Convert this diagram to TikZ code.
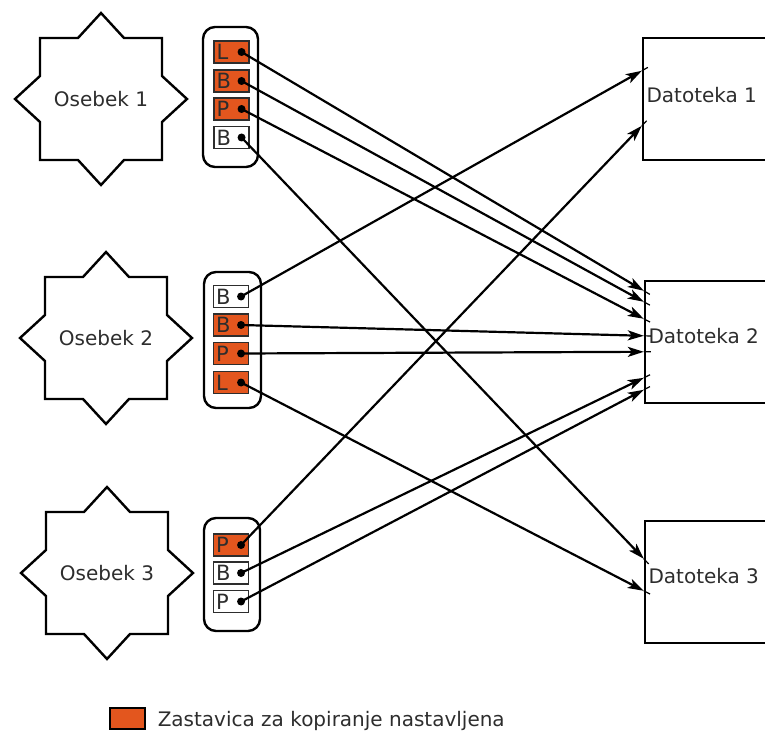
\documentclass[tikz,border=0pt]{standalone}
\usepackage{fontspec}
\setmainfont{DejaVu Sans}
\usetikzlibrary{arrows.meta,calc}
\definecolor{flagred}{RGB}{227,86,30}
\definecolor{ink}{RGB}{45,45,45}
\begin{document}
\begin{tikzpicture}[x=1pt,y=-1pt,
  font=\fontsize{20}{24}\selectfont,
  outline/.style={draw=black,line width=2.4pt,line join=miter},
  capsule/.style={draw=black,line width=2.4pt,rounded corners=12pt,fill=white,inner sep=0pt},
  flagbox/.style={draw=ink,line width=1.1pt,fill=flagred,minimum height=22pt,
    text width=30pt,inner xsep=2.5pt,inner ysep=0pt,align=left,text=ink,
    font=\fontsize{21}{24}\selectfont},
  clearflag/.style={flagbox,fill=white},
  pin/.style={circle,fill=black,inner sep=0pt,minimum size=8pt},
  link/.style={line width=2.2pt,-{Stealth[length=16pt,width=10pt,inset=4pt]}},
  stub/.style={line width=1.2pt},
  filebox/.style={draw=black,line width=2.4pt,minimum width=160pt,minimum height=122pt,inner sep=0pt},
  nametext/.style={text=ink,inner sep=0pt}]
\useasboundingbox (0,0) rectangle (765,738);
\clip (0,0) rectangle (765,738);

% persons: eight-pointed stars on a square
\foreach \cx/\cy/\n in {101/99/1,106/338/2,107/573/3}{
  \draw[outline,shift={(\cx,\cy)}]
    (0,-86) -- (23,-61) -- (61,-61) -- (61,-23) -- (86,0) -- (61,23) -- (61,61) -- (23,61)
    -- (0,86) -- (-23,61) -- (-61,61) -- (-61,23) -- (-86,0) -- (-61,-23) -- (-61,-61)
    -- (-23,-61) -- cycle;
  \node[nametext] (o\n) at (\cx,\cy) {Osebek \n};
}

% files
\node[filebox] (d1) at (723,99) {};
\node[filebox] (d2) at (725,342) {};
\node[filebox] (d3) at (725,582) {};
\node[nametext,anchor=base west] (d1t) at ([xshift=4.5pt,yshift=-4pt]d1.west) {Datoteka 1};
\node[nametext,anchor=base west] (d2t) at ([xshift=4.5pt,yshift=-1pt]d2.west) {Datoteka 2};
\node[nametext,anchor=base west] (d3t) at ([xshift=4.5pt,yshift=-1pt]d3.west) {Datoteka 3};

% flag holders
\node[capsule,minimum width=55pt,minimum height=140pt] (c1) at (230.5,97) {};
\node[flagbox]   (c1a) at (231.5,52)    {L};
\node[flagbox]   (c1b) at (231.5,81)    {B};
\node[flagbox]   (c1c) at (231.5,109)   {P};
\node[clearflag] (c1d) at (231.5,137.5) {B};

\node[capsule,minimum width=57pt,minimum height=136pt] (c2) at (232.5,340) {};
\node[clearflag] (c2a) at (231,296.5) {B};
\node[flagbox]   (c2b) at (231,325)   {B};
\node[flagbox]   (c2c) at (231,353.5) {P};
\node[flagbox]   (c2d) at (231,382.5) {L};

\node[capsule,minimum width=56pt,minimum height=113pt] (c3) at (232,574.5) {};
\node[flagbox]   (c3a) at (231,545)   {P};
\node[clearflag] (c3b) at (231,573)   {B};
\node[clearflag] (c3c) at (231,601.5) {P};

% connection points on the file boxes
\coordinate (d1a) at ([yshift=-34pt]d1.north west);
\coordinate (d1b) at ([yshift=-89pt]d1.north west);
\coordinate (d2a) at ([yshift=-11pt]d2.north west);
\coordinate (d2b) at ([yshift=-22pt]d2.north west);
\coordinate (d2c) at ([yshift=-39pt]d2.north west);
\coordinate (d2d) at ([yshift=-56pt]d2.north west);
\coordinate (d2e) at ([yshift=-72pt]d2.north west);
\coordinate (d2f) at ([yshift=-98pt]d2.north west);
\coordinate (d2g) at ([yshift=-110pt]d2.north west);
\coordinate (d3a) at ([yshift=-39pt]d3.north west);
\coordinate (d3b) at ([yshift=-71pt]d3.north west);

% pins on the flags
\foreach \f in {c1a,c1b,c1c,c1d,c2a,c2b,c2c,c2d,c3a,c3b,c3c}{
  \coordinate (p\f) at ([xshift=-8pt]\f.east);
}

% links from flags to files
\foreach \s/\t in {c1a/d2a,c1b/d2b,c1c/d2c,c1d/d3a,
                   c2a/d1a,c2b/d2d,c2c/d2e,c2d/d3b,
                   c3a/d1b,c3b/d2f,c3c/d2g}{
  \draw[link] (p\s) -- (\t);
  \draw[stub] (\t) -- ($(\t)!-7pt!(p\s)$);
}

\foreach \f in {c1a,c1b,c1c,c1d,c2a,c2b,c2c,c2d,c3a,c3b,c3c}{
  \node[pin] (q\f) at (p\f) {};
}

% legend
\node[draw=black,line width=1.1pt,fill=flagred,minimum width=35pt,minimum height=21pt,inner sep=0pt] (key) at (127.5,718.5) {};
\node[nametext,anchor=base west] (keytext) at ([xshift=12pt,yshift=-7.5pt]key.east) {Zastavica za kopiranje nastavljena};
\end{tikzpicture}
\end{document}
